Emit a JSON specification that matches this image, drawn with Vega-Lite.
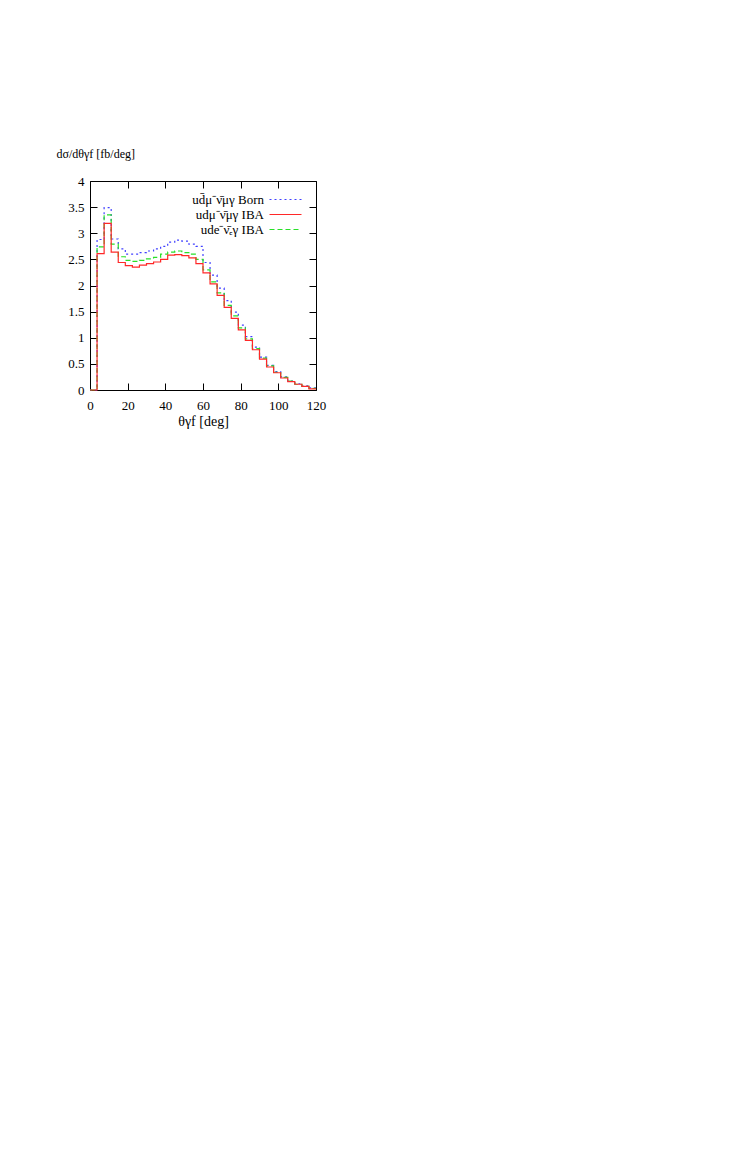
{
  "$schema": "https://vega.github.io/schema/vega-lite/v6.json",
  "width": 226,
  "height": 209,
  "autosize": {"type": "none"},
  "padding": {"left": 90, "top": 181, "right": 100, "bottom": 200},
  "background": "white",
  "config": {
    "view": {"stroke": "black", "strokeWidth": 1},
    "font": "Liberation Serif",
    "axis": {
      "grid": false,
      "domain": false,
      "tickColor": "black",
      "tickSize": -7,
      "tickWidth": 1,
      "labelFont": "Liberation Serif",
      "labelFontSize": 13,
      "labelColor": "black",
      "labelOverlap": false,
      "labelFlush": false,
      "titleFont": "Liberation Serif",
      "titleFontWeight": "normal",
      "titleColor": "black"
    }
  },
  "datasets": {
    "h": [
      {"x": 0, "y": 0, "s": "born"}, {"x": 3.75, "y": 2.88, "s": "born"}, {"x": 7.5, "y": 3.49, "s": "born"}, {"x": 11.25, "y": 2.89, "s": "born"},
      {"x": 15, "y": 2.7, "s": "born"}, {"x": 18.75, "y": 2.6, "s": "born"}, {"x": 22.5, "y": 2.6, "s": "born"}, {"x": 26.25, "y": 2.63, "s": "born"},
      {"x": 30, "y": 2.66, "s": "born"}, {"x": 33.75, "y": 2.7, "s": "born"}, {"x": 37.5, "y": 2.75, "s": "born"}, {"x": 41.25, "y": 2.83, "s": "born"},
      {"x": 45, "y": 2.87, "s": "born"}, {"x": 48.75, "y": 2.85, "s": "born"}, {"x": 52.5, "y": 2.79, "s": "born"}, {"x": 56.25, "y": 2.75, "s": "born"},
      {"x": 60, "y": 2.44, "s": "born"}, {"x": 63.75, "y": 2.2, "s": "born"}, {"x": 67.5, "y": 1.95, "s": "born"}, {"x": 71.25, "y": 1.71, "s": "born"},
      {"x": 75, "y": 1.49, "s": "born"}, {"x": 78.75, "y": 1.24, "s": "born"}, {"x": 82.5, "y": 1.02, "s": "born"}, {"x": 86.25, "y": 0.82, "s": "born"},
      {"x": 90, "y": 0.63, "s": "born"}, {"x": 93.75, "y": 0.47, "s": "born"}, {"x": 97.5, "y": 0.35, "s": "born"}, {"x": 101.25, "y": 0.25, "s": "born"},
      {"x": 105, "y": 0.17, "s": "born"}, {"x": 108.75, "y": 0.12, "s": "born"}, {"x": 112.5, "y": 0.08, "s": "born"}, {"x": 116.25, "y": 0.04, "s": "born"},
      {"x": 120, "y": 0.04, "s": "born"},
      {"x": 0, "y": 0, "s": "ibae"}, {"x": 3.75, "y": 2.74, "s": "ibae"}, {"x": 7.5, "y": 3.35, "s": "ibae"}, {"x": 11.25, "y": 2.79, "s": "ibae"},
      {"x": 15, "y": 2.55, "s": "ibae"}, {"x": 18.75, "y": 2.48, "s": "ibae"}, {"x": 22.5, "y": 2.46, "s": "ibae"}, {"x": 26.25, "y": 2.48, "s": "ibae"},
      {"x": 30, "y": 2.51, "s": "ibae"}, {"x": 33.75, "y": 2.54, "s": "ibae"}, {"x": 37.5, "y": 2.6, "s": "ibae"}, {"x": 41.25, "y": 2.64, "s": "ibae"},
      {"x": 45, "y": 2.66, "s": "ibae"}, {"x": 48.75, "y": 2.63, "s": "ibae"}, {"x": 52.5, "y": 2.6, "s": "ibae"}, {"x": 56.25, "y": 2.5, "s": "ibae"},
      {"x": 60, "y": 2.3, "s": "ibae"}, {"x": 63.75, "y": 2.07, "s": "ibae"}, {"x": 67.5, "y": 1.86, "s": "ibae"}, {"x": 71.25, "y": 1.62, "s": "ibae"},
      {"x": 75, "y": 1.42, "s": "ibae"}, {"x": 78.75, "y": 1.19, "s": "ibae"}, {"x": 82.5, "y": 0.98, "s": "ibae"}, {"x": 86.25, "y": 0.79, "s": "ibae"},
      {"x": 90, "y": 0.61, "s": "ibae"}, {"x": 93.75, "y": 0.46, "s": "ibae"}, {"x": 97.5, "y": 0.34, "s": "ibae"}, {"x": 101.25, "y": 0.24, "s": "ibae"},
      {"x": 105, "y": 0.17, "s": "ibae"}, {"x": 108.75, "y": 0.11, "s": "ibae"}, {"x": 112.5, "y": 0.07, "s": "ibae"}, {"x": 116.25, "y": 0.03, "s": "ibae"},
      {"x": 120, "y": 0.03, "s": "ibae"},
      {"x": 0, "y": 0, "s": "ibamu"}, {"x": 3.75, "y": 2.61, "s": "ibamu"}, {"x": 7.5, "y": 3.19, "s": "ibamu"}, {"x": 11.25, "y": 2.64, "s": "ibamu"},
      {"x": 15, "y": 2.44, "s": "ibamu"}, {"x": 18.75, "y": 2.38, "s": "ibamu"}, {"x": 22.5, "y": 2.35, "s": "ibamu"}, {"x": 26.25, "y": 2.39, "s": "ibamu"},
      {"x": 30, "y": 2.42, "s": "ibamu"}, {"x": 33.75, "y": 2.45, "s": "ibamu"}, {"x": 37.5, "y": 2.5, "s": "ibamu"}, {"x": 41.25, "y": 2.58, "s": "ibamu"},
      {"x": 45, "y": 2.59, "s": "ibamu"}, {"x": 48.75, "y": 2.57, "s": "ibamu"}, {"x": 52.5, "y": 2.53, "s": "ibamu"}, {"x": 56.25, "y": 2.42, "s": "ibamu"},
      {"x": 60, "y": 2.24, "s": "ibamu"}, {"x": 63.75, "y": 2.03, "s": "ibamu"}, {"x": 67.5, "y": 1.81, "s": "ibamu"}, {"x": 71.25, "y": 1.58, "s": "ibamu"},
      {"x": 75, "y": 1.37, "s": "ibamu"}, {"x": 78.75, "y": 1.15, "s": "ibamu"}, {"x": 82.5, "y": 0.95, "s": "ibamu"}, {"x": 86.25, "y": 0.77, "s": "ibamu"},
      {"x": 90, "y": 0.59, "s": "ibamu"}, {"x": 93.75, "y": 0.44, "s": "ibamu"}, {"x": 97.5, "y": 0.33, "s": "ibamu"}, {"x": 101.25, "y": 0.23, "s": "ibamu"},
      {"x": 105, "y": 0.16, "s": "ibamu"}, {"x": 108.75, "y": 0.11, "s": "ibamu"}, {"x": 112.5, "y": 0.07, "s": "ibamu"}, {"x": 116.25, "y": 0.02, "s": "ibamu"},
      {"x": 120, "y": 0.02, "s": "ibamu"}
    ]
  },
  "data": {"name": "h"},
  "layer": [
    {
      "mark": {"type": "line", "interpolate": "step-after", "strokeWidth": 1.2},
      "encoding": {
        "x": {
          "field": "x", "type": "quantitative",
          "scale": {"domain": [0, 120], "nice": false},
          "axis": {"values": [0, 20, 40, 60, 80, 100, 120], "format": "d", "title": "θγf [deg]", "titleFontSize": 14, "titlePadding": 2, "labelPadding": 16}
        },
        "y": {
          "field": "y", "type": "quantitative",
          "scale": {"domain": [0, 4], "nice": false},
          "axis": {"values": [0, 0.5, 1, 1.5, 2, 2.5, 3, 3.5, 4], "format": "~g", "title": "dσ/dθγf  [fb/deg]", "titleAngle": 0, "titleAlign": "left", "titleBaseline": "middle", "titleX": -34, "titleY": -28, "titleFontSize": 12, "labelPadding": 13}
        },
        "color": {
          "field": "s", "type": "nominal",
          "scale": {"domain": ["born", "ibamu", "ibae"], "range": ["#4040ff", "#ff2828", "#28e028"]},
          "legend": {
            "orient": "top-right",
            "title": null,
            "offset": 12,
            "symbolType": "M-3.2,0H3.2",
            "symbolSize": 100,
            "symbolStrokeWidth": 1.2,
            "labelFontSize": 13,
            "labelFont": "Liberation Serif",
            "labelColor": "black",
            "rowPadding": 1,
            "labelExpr": "datum.value == 'born' ? 'ud̄μ⁻ν̄μγ Born' : datum.value == 'ibamu' ? 'udμ⁻ν̄μγ IBA' : 'ude⁻ν̄ₑγ IBA'",
            "encode": {"labels": {"update": {"align": {"value": "right"}, "x": {"value": -15}}}}
          }
        },
        "strokeDash": {
          "field": "s", "type": "nominal",
          "scale": {"domain": ["born", "ibamu", "ibae"], "range": [[2, 3], [1, 0], [5, 3]]},
          "legend": null
        }
      }
    },
    {
      "mark": {"type": "line", "opacity": 0},
      "encoding": {
        "x": {"field": "x", "type": "quantitative", "axis": {"orient": "top", "values": [0, 20, 40, 60, 80, 100, 120], "labels": false, "title": null}},
        "y": {"field": "y", "type": "quantitative", "axis": {"orient": "right", "values": [0, 0.5, 1, 1.5, 2, 2.5, 3, 3.5, 4], "labels": false, "title": null}}
      }
    }
  ],
  "resolve": {"axis": {"x": "independent", "y": "independent"}}
}
